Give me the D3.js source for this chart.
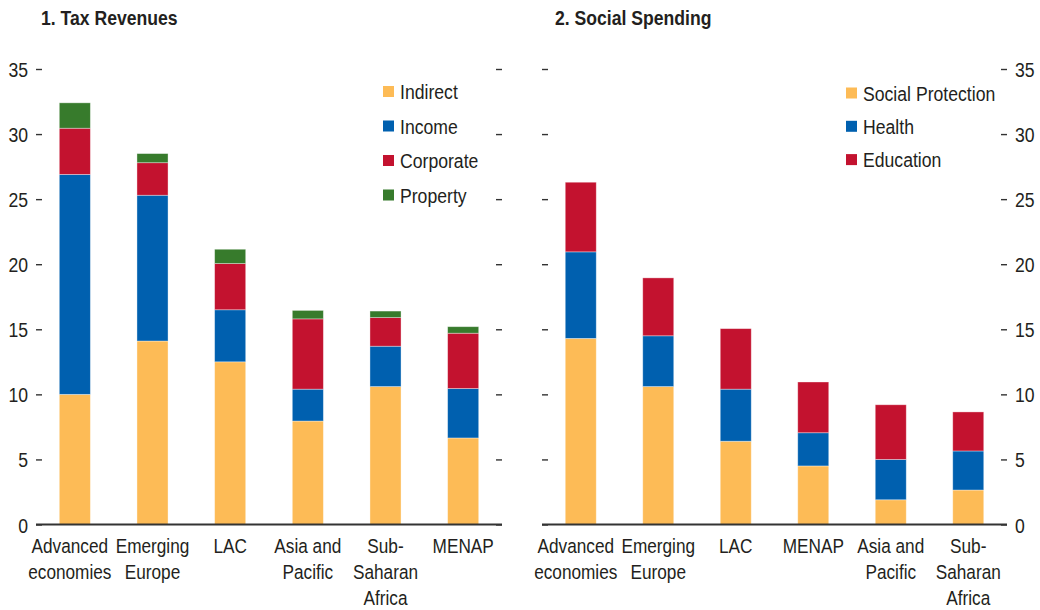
<!DOCTYPE html>
<html>
<head>
<meta charset="utf-8">
<script src="https://cdn.jsdelivr.net/npm/d3@7"></script>
<style>
  body { margin: 0; background: #fff; }
  svg text { font-family: "Liberation Sans", Arial, sans-serif; fill: #231f20; }
</style>
</head>
<body>
<div id="chart"></div>
<script>
// panel 1 data (percent of GDP)
var taxCategories = ["Advanced economies", "Emerging Europe", "LAC", "Asia and Pacific", "Sub-Saharan Africa", "MENAP"];
var taxLabels = [["Advanced", "economies"], ["Emerging", "Europe"], ["LAC"], ["Asia and", "Pacific"], ["Sub-", "Saharan", "Africa"], ["MENAP"]];
var taxSeries = ["Indirect", "Income", "Corporate", "Property"];
var taxIndirect  = [10.0, 14.1, 12.5, 7.95, 10.6, 6.65];
var taxIncome    = [16.9, 11.2, 4.0, 2.45, 3.1, 3.8];
var taxCorporate = [3.55, 2.5, 3.55, 5.4, 2.2, 4.25];
var taxProperty  = [1.95, 0.7, 1.1, 0.65, 0.5, 0.5];

// panel 2 data
var socialCategories = ["Advanced economies", "Emerging Europe", "LAC", "MENAP", "Asia and Pacific", "Sub-Saharan Africa"];
var socialLabels = [["Advanced", "economies"], ["Emerging", "Europe"], ["LAC"], ["MENAP"], ["Asia and", "Pacific"], ["Sub-", "Saharan", "Africa"]];
var socialSeries = ["Social Protection", "Health", "Education"];
var socialProtection = [14.3, 10.6, 6.4, 4.5, 1.9, 2.65];
var socialHealth     = [6.65, 3.9, 4.0, 2.55, 3.1, 3.0];
var socialEducation  = [5.35, 4.45, 4.65, 3.9, 4.2, 3.0];

var yTicks = [0, 5, 10, 15, 20, 25, 30, 35];

var colours = {
  "Indirect": "#fdbb56", "Income": "#0060af", "Corporate": "#c3122f", "Property": "#377b2c",
  "Social Protection": "#fdbb56", "Health": "#0060af", "Education": "#c3122f"
};

// no condensed font installed, so squeeze text horizontally
var squeeze = 0.84;

var fullWidth = 1040, fullHeight = 610;

var svg = d3.select("#chart").append("svg")
  .attr("width", fullWidth)
  .attr("height", fullHeight);

// shared y scale for both panels
var yScale = d3.scaleLinear()
  .domain([0, 35])
  .range([524.5, 69]);

function buildRows(categories, series, columns) {
  return categories.map(function (c, i) {
    var row = { cat: c, idx: i };
    series.forEach(function (s, j) { row[s] = columns[j][i]; });
    return row;
  });
}

function drawPanel(p) {
  var g = svg.append("g");

  var xScale = d3.scaleBand()
    .domain(p.categories)
    .range([p.left, p.right]);
  var barWidth = xScale.bandwidth() * 0.4;

  // title
  g.append("text")
    .attr("transform", "translate(" + p.titleX + ",25) scale(0.88,1)")
    .style("font-size", "20px")
    .style("font-weight", "bold")
    .text(p.title);

  // stacked bars
  var rows = buildRows(p.categories, p.series, p.columns);
  var stacked = d3.stack().keys(p.series)(rows);

  g.selectAll(".layer")
    .data(stacked)
    .enter().append("g")
    .attr("class", "layer")
    .attr("fill", function (d) { return colours[d.key]; })
    .selectAll("rect")
    .data(function (d) { return d; })
    .enter().append("rect")
    .attr("x", function (d) { return xScale(d.data.cat) + (xScale.bandwidth() - barWidth) / 2; })
    .attr("width", barWidth)
    .attr("y", function (d) { return yScale(d[1]); })
    .attr("height", function (d) { return yScale(d[0]) - yScale(d[1]); })
    .attr("stroke", "rgba(255,255,255,0.45)")
    .attr("stroke-width", 0.8);

  // tick marks on both sides (inside)
  var ticksL = d3.axisLeft(yScale).tickValues(yTicks).tickSize(-6).tickFormat(p.labelSide === "left" ? d3.format("d") : "");
  var ticksR = d3.axisRight(yScale).tickValues(yTicks).tickSize(-6).tickFormat(p.labelSide === "right" ? d3.format("d") : "");

  var axL = g.append("g")
    .attr("transform", "translate(" + p.left + ",0)")
    .call(ticksL);
  var axR = g.append("g")
    .attr("transform", "translate(" + p.right + ",0)")
    .call(ticksR);

  [axL, axR].forEach(function (ax) {
    ax.select(".domain").remove();
    ax.selectAll("line").attr("stroke", "#333").attr("stroke-width", 1.4);
    ax.selectAll("text")
      .style("font-size", "21px")
      .attr("fill", "#231f20")
      .attr("dy", "0.36em");
  });
  axL.selectAll("text").attr("x", 0).attr("transform", "translate(-8,0) scale(" + squeeze + ",1)");
  axR.selectAll("text").attr("x", 0).attr("transform", "translate(8,0) scale(" + squeeze + ",1)");

  // zero line
  g.append("line")
    .attr("x1", p.left).attr("x2", p.right)
    .attr("y1", yScale(0)).attr("y2", yScale(0))
    .attr("stroke", "#333")
    .attr("stroke-width", 2);

  // category labels, centered under bars
  var lbl = g.selectAll(".cat")
    .data(p.labels)
    .enter().append("text")
    .attr("class", "cat")
    .attr("text-anchor", "middle")
    .style("font-size", "20.5px")
    .attr("transform", function (d, i) {
      var cx = xScale(p.categories[i]) + xScale.bandwidth() / 2;
      // first label nudged left so it doesn't run into the next one
      if (i === 0) cx -= 5;
      return "translate(" + cx + ",553) scale(" + squeeze + ",1)";
    });
  lbl.selectAll("tspan")
    .data(function (d) { return d; })
    .enter().append("tspan")
    .attr("x", 0)
    .attr("y", function (d, i) { return i * 26; })
    .text(function (d) { return d; });

  // legend
  var legend = g.selectAll(".legend")
    .data(p.series)
    .enter().append("g")
    .attr("class", "legend")
    .attr("transform", function (d, i) {
      return "translate(" + p.legendX + "," + (p.legendY + i * p.legendStep) + ")";
    });

  legend.append("rect")
    .attr("x", 0)
    .attr("y", -5.5)
    .attr("width", 11)
    .attr("height", 11)
    .attr("fill", function (d) { return colours[d]; });

  legend.append("text")
    .attr("transform", "translate(17,0) scale(" + squeeze + ",1)")
    .attr("dy", "0.36em")
    .style("font-size", "21px")
    .text(function (d) { return d; });
}

drawPanel({
  title: "1. Tax Revenues",
  titleX: 41,
  categories: taxCategories,
  labels: taxLabels,
  series: taxSeries,
  columns: [taxIndirect, taxIncome, taxCorporate, taxProperty],
  left: 36, right: 502,
  labelSide: "left",
  legendX: 383, legendY: 91.5, legendStep: 34.5
});

drawPanel({
  title: "2. Social Spending",
  titleX: 555,
  categories: socialCategories,
  labels: socialLabels,
  series: socialSeries,
  columns: [socialProtection, socialHealth, socialEducation],
  left: 542, right: 1007,
  labelSide: "right",
  legendX: 846, legendY: 93, legendStep: 33.3
});
</script>
</body>
</html>
